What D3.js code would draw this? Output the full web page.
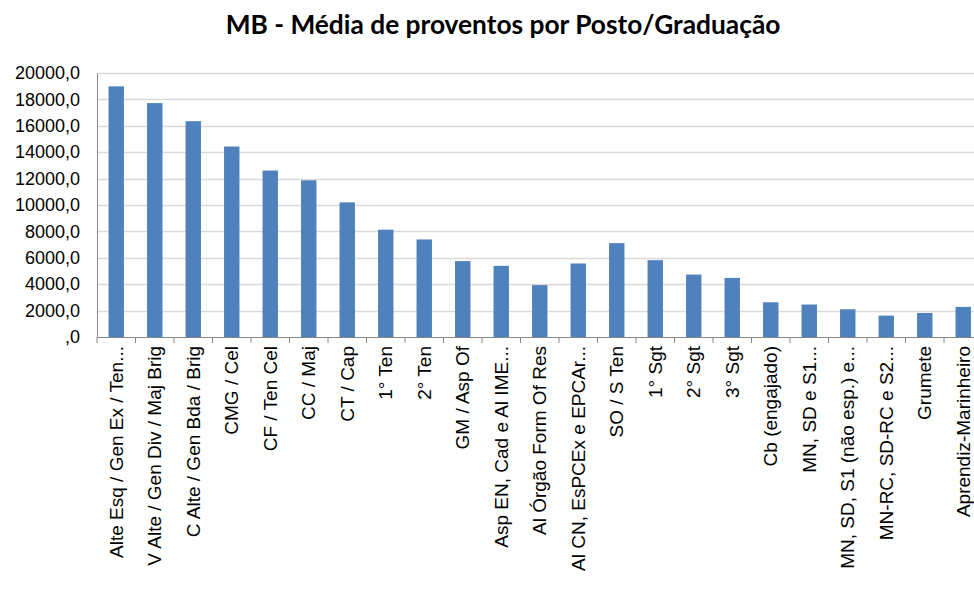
<!DOCTYPE html>
<html>
<head>
<meta charset="utf-8">
<script src="https://cdn.jsdelivr.net/npm/d3@7"></script>
<style>
  body { margin: 0; background: #fff; }
  svg { display: block; }
</style>
</head>
<body>
<div class="chart"></div>
<script>
// dados
var titulo = 'MB - Média de proventos por Posto/Graduação';

var postos = [
	'Alte Esq / Gen Ex / Ten...',
	'V Alte / Gen Div / Maj Brig',
	'C Alte / Gen Bda / Brig',
	'CMG / Cel',
	'CF / Ten Cel',
	'CC / Maj',
	'CT / Cap',
	'1° Ten',
	'2° Ten',
	'GM / Asp Of',
	'Asp EN, Cad e Al IME...',
	'Al Órgão Form Of Res',
	'Al CN, EsPCEx e EPCAr...',
	'SO / S Ten',
	'1° Sgt',
	'2° Sgt',
	'3° Sgt',
	'Cb (engajado)',
	'MN, SD e S1...',
	'MN, SD, S1 (não esp.) e...',
	'MN-RC, SD-RC e S2...',
	'Grumete',
	'Aprendiz-Marinheiro'
];

var medias = [
	18990, 17720, 16350, 14430, 12610, 11870, 10200, 8130, 7390,
	5750, 5390, 3930, 5570, 7110, 5820, 4730, 4480, 2630, 2460,
	2100, 1620, 1820, 2280
];

var ticksY = [0, 2000, 4000, 6000, 8000, 10000, 12000, 14000, 16000, 18000, 20000];

// opções
var width = 974,
	height = 592;
var plotLeft = 97,
	plotTop = 73,
	plotBottom = 337,
	step = 38.5;
var corBarra = '#4f81bd',
	corGrade = '#d9d9d9',
	corEixo = '#868686';

var svg = d3.select('.chart')
	.append('svg')
	.attr('width', width)
	.attr('height', height);

// escalas
var x = d3.scaleBand()
	.domain(postos)
	.range([plotLeft, plotLeft + step * postos.length])
	.paddingInner(0.6)
	.paddingOuter(0.3);

var y = d3.scaleLinear()
	.domain([0, 20000])
	.range([plotBottom, plotTop]);

function fmt(v) {
	return v === 0 ? ',0' : v + ',0';
}

// título
svg.append('text')
	.attr('x', 503)
	.attr('y', 34)
	.attr('text-anchor', 'middle')
	.style('font-family', 'Lato, "Open Sans", sans-serif')
	.style('font-weight', 'bold')
	.style('font-size', '26.3px')
	.style('fill', '#000')
	.text(titulo);

// grade
svg.append('g').attr('class', 'grade').selectAll('line')
	.data(ticksY.slice(1))
	.enter()
	.append('line')
	.attr('x1', plotLeft)
	.attr('x2', width)
	.attr('y1', function(d) { return Math.round(y(d)) + 0.5; })
	.attr('y2', function(d) { return Math.round(y(d)) + 0.5; })
	.attr('stroke', corGrade)
	.attr('stroke-width', 1.5);

// barras
svg.append('g').attr('class', 'barras').selectAll('rect')
	.data(medias)
	.enter()
	.append('rect')
	.attr('x', function(d, i) { return x(postos[i]); })
	.attr('y', function(d) { return y(d); })
	.attr('width', x.bandwidth())
	.attr('height', function(d) { return y(0) - y(d); })
	.attr('fill', corBarra);

// eixo Y
var eixoY = d3.axisLeft(y)
	.tickValues(ticksY)
	.tickSize(0)
	.tickPadding(17)
	.tickFormat(fmt);

var gy = svg.append('g')
	.attr('transform', 'translate(' + plotLeft + ',0)')
	.call(eixoY);
gy.select('.domain').attr('stroke', corEixo).attr('stroke-width', 1);
gy.selectAll('text')
	.style('font-family', '"Liberation Sans", Arial, sans-serif')
	.style('font-size', '18px')
	.style('fill', '#000');

// eixo X
var eixoX = d3.axisBottom(x)
	.tickSize(0)
	.tickPadding(0);

var gx = svg.append('g')
	.attr('transform', 'translate(0,' + plotBottom + ')')
	.call(eixoX);
gx.select('.domain').attr('stroke', corEixo).attr('stroke-width', 1);
gx.selectAll('.tick text')
	.attr('transform', 'rotate(-90)')
	.attr('x', -9)
	.attr('y', 0)
	.attr('dy', '0.35em')
	.attr('text-anchor', 'end')
	.style('font-family', '"Liberation Sans", Arial, sans-serif')
	.style('font-size', '19px')
	.style('fill', '#000');

// marcas entre categorias
gx.selectAll('.sep')
	.data(d3.range(postos.length + 1))
	.enter()
	.append('line')
	.attr('class', 'sep')
	.attr('x1', function(i) { return plotLeft + i * x.step(); })
	.attr('x2', function(i) { return plotLeft + i * x.step(); })
	.attr('y1', 0)
	.attr('y2', 6)
	.attr('stroke', corEixo);
</script>
</body>
</html>
